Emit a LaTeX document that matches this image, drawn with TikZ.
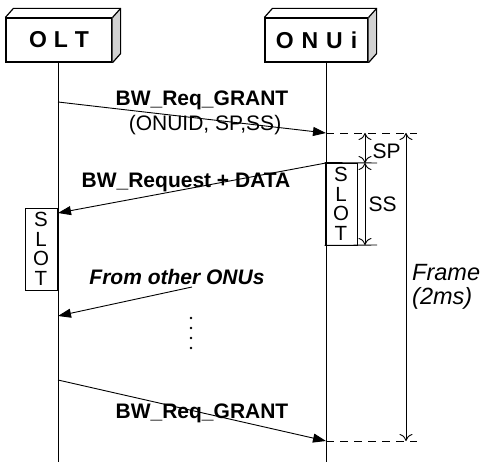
\documentclass[tikz,border=0pt]{standalone}
\usepackage{fontspec}
\setmainfont{Liberation Sans}
\usetikzlibrary{arrows.meta}

\tikzset{
  entity/.style={draw, line width=1.2pt, fill=white, minimum height=44pt, inner sep=0pt,
    font=\fontsize{23}{26}\selectfont\bfseries},
  slotbox/.style={draw, line width=0.9pt, fill=white, inner sep=0pt, minimum width=32pt,
    minimum height=82pt, align=center, font=\fontsize{20.5}{19.5}\selectfont},
  msg/.style={line width=0.9pt, -{Triangle[length=13pt,width=9pt]}},
  span/.style={line width=0.9pt, {To[length=7pt,width=13pt]}-{To[length=7pt,width=13pt]}},
  lbl/.style={font=\fontsize{21}{24}\selectfont\bfseries},
  txt/.style={font=\fontsize{21}{24}\selectfont}
}

\begin{document}
\begin{tikzpicture}[x=1pt,y=-1pt]
\useasboundingbox (0,0) rectangle (482,462);

\node[entity, minimum width=106pt] (olt) at (59,40) {O\hspace{7pt}L\hspace{7pt}T};
\node[entity, minimum width=103pt] (onu) at (316.5,40) {O\hspace{8pt}N\hspace{8pt}U\hspace{8pt}i};
\foreach \n in {olt,onu}
  {\fill[gray!35] (\n.north east) -- ++(8,-9) -- ([shift={(8,-9)}]\n.south east) -- (\n.south east) -- cycle;
   \draw[line width=1.2pt] (\n.north west) -- ++(8,-9) -- ([shift={(8,-9)}]\n.north east)
      -- ([shift={(8,-9)}]\n.south east) -- (\n.south east);
   \draw[line width=1.2pt] (\n.north east) -- ++(8,-9);}

\node[slotbox] (slotonu) at (341,204) {S\\L\\O\\T};
\node[slotbox] (slotolt) at (41,249) {S\\L\\O\\T};

\coordinate (olttop) at (58,62);
\coordinate (oltend) at (58,462);
\coordinate (onutop) at (326,62);
\coordinate (onuend) at (326,462);
\draw[line width=0.9pt] (olttop) -- (oltend);
\draw[line width=0.9pt] (onutop) -- (onuend);

\coordinate (grantA) at (58,102);
\coordinate (grantB) at (326,133);
\draw[msg] (grantA) -- (grantB);
\node[lbl] (grantlbl) at (202,100) {BW\_Req\_GRANT};
\node[txt] (grantpar) at (205,125) {(ONUID, SP,SS)};

\coordinate (reqA) at (326,163);
\coordinate (reqB) at (58,213);
\draw[msg] (reqA) -- (reqB);
\node[lbl] (reqlbl) at (186,182) {BW\_Request + DATA};

\coordinate (otherA) at (192,287);
\coordinate (otherB) at (58,316);
\draw[msg] (otherA) -- (otherB);
\node[lbl, font=\fontsize{21}{24}\selectfont\bfseries\itshape] (otherlbl) at (177,277) {From other ONUs};
\foreach \y in {318,328,338,348}
    {\fill (191,\y) circle (1.3);}

\coordinate (nextA) at (58,380);
\coordinate (nextB) at (326,441);
\draw[msg] (nextA) -- (nextB);
\node[lbl] (nextlbl) at (202,413) {BW\_Req\_GRANT};

\coordinate (dashA) at (417,133);
\coordinate (dashB) at (417,441);
\draw[line width=0.9pt, dash pattern=on 8pt off 6pt] (grantB) -- (dashA);
\draw[line width=0.9pt, dash pattern=on 8pt off 6pt] (nextB) -- (dashB);

\coordinate (slottop) at (377,163);
\coordinate (slotbot) at (377,245);
\draw[line width=0.9pt] (slotonu.north west) -- (slottop);
\draw[line width=0.9pt] (slotonu.south west) -- (slotbot);

\draw[span] (365,133) -- (365,163);
\node[txt, anchor=west] (sp) at (369,151) {SP};
\draw[span] (365,163) -- (365,245);
\node[txt, anchor=west] (ss) at (365,204) {SS};

\draw[span] (406,133) -- (406,441);
\node[font=\fontsize{23.5}{26}\selectfont\itshape, anchor=west, inner sep=0pt] (frame) at (412,273) {Frame};
\node[font=\fontsize{23.5}{26}\selectfont\itshape, anchor=west, inner sep=0pt] (period) at (412,298) {(2ms)};
\end{tikzpicture}
\end{document}
